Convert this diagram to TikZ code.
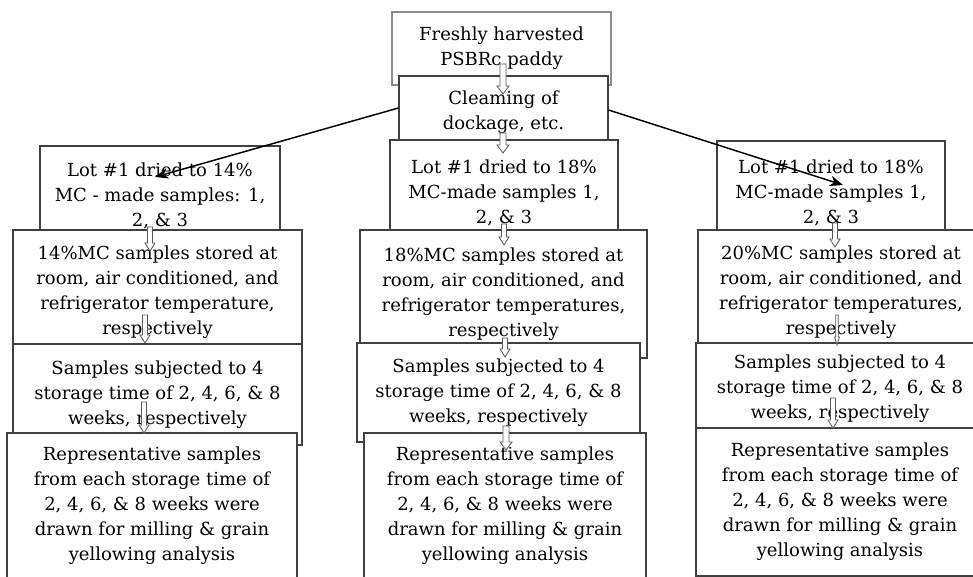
\documentclass[tikz,border=0pt]{standalone}
\usepackage{fontspec}
\setmainfont{DejaVu Serif}
\usetikzlibrary{arrows.meta}
\tikzset{
  box/.style={draw=black!75, line width=0.8pt, fill=white, inner sep=0pt, align=center,
    font=\fontsize{13.5pt}{18.75pt}\selectfont, text=black},
  boxwh/.style 2 args={minimum width=#1*0.75pt, minimum height=#2*0.75pt},
  diag/.style={draw=black, line width=1.1pt, -{Stealth[length=10pt,width=8pt]}},
  pics/barrow/.style args={#1/#2}{code={
    \draw[fill=white, draw=black!65, line width=0.6pt]
      (-#2,0) -- (#2,0) -- (#2,#1-8) -- (2*#2,#1-8) -- (0,#1) -- (-2*#2,#1-8) -- (-#2,#1-8) -- cycle;}}
}
\begin{document}
\begin{tikzpicture}[x=0.75pt,y=-0.75pt]
\useasboundingbox (0,0) rectangle (973,577);
\clip (0,0) rectangle (973,577);
\fill[white] (0,0) rectangle (973,577);
% top boxes
\node[box, draw=black!45, boxwh={219}{73}] (fresh) at (501.5,48.5) {Freshly harvested\\PSBRc paddy};
\node[box, boxwh={209}{73}] (clean) at (503.5,112.5) {Cleaming of\\dockage, etc.};
% lot boxes
\node[box, boxwh={240}{100}] (lotL) at (160,196) {Lot \#1 dried to 14\%\\MC - made samples: 1,\\2, \& 3};
\node[box, boxwh={228}{106}] (lotM) at (504,193) {Lot \#1 dried to 18\%\\MC-made samples 1,\\2, \& 3};
\node[box, boxwh={228}{104}] (lotR) at (831,193) {Lot \#1 dried to 18\%\\MC-made samples 1,\\2, \& 3};
% stored boxes
\node[box, boxwh={289}{124}] (stoL) at (157.5,292) {14\%MC samples stored at\\room, air conditioned, and\\refrigerator temperature,\\respectively};
\node[box, boxwh={287}{128}] (stoM) at (503.5,294) {18\%MC samples stored at\\room, air conditioned, and\\refrigerator temperatures,\\respectively};
\node[box, boxwh={286}{125}] (stoR) at (841,292.5) {20\%MC samples stored at\\room, air conditioned, and\\refrigerator temperatures,\\respectively};
% samples boxes
\node[box, boxwh={289}{101}] (samL) at (157.5,394.5) {Samples subjected to 4\\storage time of 2, 4, 6, \& 8\\weeks, respectively};
\node[box, boxwh={283}{99}] (samM) at (498.5,392.5) {Samples subjected to 4\\storage time of 2, 4, 6, \& 8\\weeks, respectively};
\node[box, boxwh={288}{91}] (samR) at (840,388.5) {Samples subjected to 4\\storage time of 2, 4, 6, \& 8\\weeks, respectively};
% representative boxes
\node[box, boxwh={290}{146}] (repL) at (152,506) {Representative samples\\from each storage time of\\2, 4, 6, \& 8 weeks were\\drawn for milling \& grain\\yellowing analysis};
\node[box, boxwh={282}{146}] (repM) at (505,506) {Representative samples\\from each storage time of\\2, 4, 6, \& 8 weeks were\\drawn for milling \& grain\\yellowing analysis};
\node[box, boxwh={288}{148}] (repR) at (840,502) {Representative samples\\from each storage time of\\2, 4, 6, \& 8 weeks were\\drawn for milling \& grain\\yellowing analysis};
% hollow block arrows
\pic at (503,64) {barrow={30/3}};
\pic at (503,133) {barrow={20/3}};
\pic at (150,227) {barrow={24/2.5}};
\pic at (145,315) {barrow={28/2.5}};
\pic at (144,402) {barrow={31/2.5}};
\pic at (504,224) {barrow={21/2.5}};
\pic at (505,338) {barrow={19/2.5}};
\pic at (506,426) {barrow={24/3}};
\pic at (835,223) {barrow={24/2.5}};
\pic at (837,315) {barrow={30/1.2}};
\pic at (833,398) {barrow={30/2.5}};
% diagonal arrows
\coordinate (tipL) at (155,177);
\coordinate (tipR) at (843,185);
\draw[diag] (clean.west |- 0,108) -- (tipL);
\draw[diag] (clean.east |- 0,110) -- (tipR);
\end{tikzpicture}
\end{document}
